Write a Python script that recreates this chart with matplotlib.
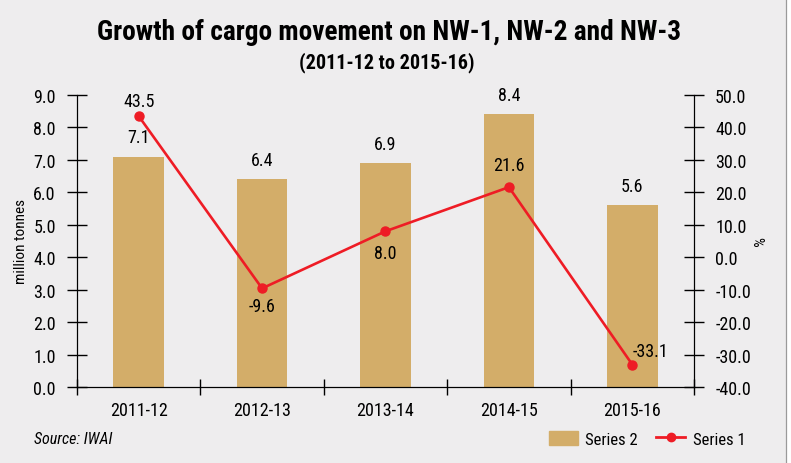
import matplotlib.pyplot as plt
import numpy as np
from matplotlib.patches import Patch, Rectangle
from matplotlib.lines import Line2D

plt.rcParams['font.family'] = ['Roboto Condensed', 'DejaVu Sans']
plt.rcParams['font.stretch'] = 'condensed'

# data
years = ['2011-12', '2012-13', '2013-14', '2014-15', '2015-16']
cargo = [7.1, 6.4, 6.9, 8.4, 5.6]          # million tonnes (Series 2)
growth = [43.5, -9.6, 8.0, 21.6, -33.1]    # % (Series 1)

bg = '#eeedee'
bar_col = '#d3ad69'
red = '#ee1c25'

fig = plt.figure(figsize=(7.91, 4.64), dpi=100, facecolor=bg)
# thin grey border on the right edge, white strip beyond it
fig.add_artist(Rectangle((786 / 791, 0), 1, 1, transform=fig.transFigure,
                         facecolor='white', edgecolor='none'))
fig.add_artist(Line2D([785.5 / 791] * 2, [0, 1], transform=fig.transFigure,
                      color='#9a9a9a', lw=0.9))

ax = fig.add_axes([0.0973, 0.1638, 0.7801, 0.6293])
ax.set_facecolor(bg)
x = np.arange(len(years))

bars = ax.bar(x, cargo, width=0.41, color=bar_col, zorder=2)
ax.set_xlim(-0.5, len(years) - 0.5)
ax.set_ylim(0, 9)
ax.set_yticks(np.arange(0, 9.1, 1.0))
ax.set_yticklabels([f'{v:.1f}' for v in np.arange(0, 9.1, 1.0)])
ax.set_xticks(x)
ax.set_xticklabels(years)
ax.set_xticks(np.arange(-0.5, len(years), 1.0), minor=True)
ax.tick_params(axis='x', which='major', length=0, labelsize=13, pad=10)
ax.tick_params(axis='x', which='minor', direction='inout', length=11.5, width=1)
ax.tick_params(axis='y', direction='inout', length=14.4, width=1, labelsize=13, pad=8)
ax.spines['top'].set_visible(False)
ax.set_ylabel('million tonnes', fontsize=11, labelpad=4)

for b, v in zip(bars, cargo):
    ax.annotate(f'{v:.1f}', (b.get_x() + b.get_width() / 2, v), xytext=(0, 14),
                textcoords='offset points', ha='center', va='center', fontsize=13)

ax2 = ax.twinx()
ax2.set_ylim(-40, 50)
ax2.set_yticks(np.arange(-40, 51, 10))
ax2.set_yticklabels([f'{v:.1f}' for v in np.arange(-40, 51, 10)])
ax2.tick_params(axis='y', direction='inout', length=14.4, width=1, labelsize=13, pad=8)
ax2.spines['top'].set_visible(False)
ax2.set_ylabel('%', fontsize=11, rotation=270, labelpad=9)
ax2.plot(x, growth, color=red, lw=1.9, marker='o', ms=6.5, zorder=3)

# label offsets (points) for the growth values
dys = [11, -12.5, -15.5, 16, 9.5]
has = ['center', 'center', 'center', 'center', 'left']
for i, g in enumerate(growth):
    ax2.annotate(f'{g:.1f}', (x[i], g), xytext=(0, dys[i]),
                 textcoords='offset points', ha=has[i], va='center', fontsize=13)

fig.text(0.492, 0.931, 'Growth of cargo movement on NW-1, NW-2 and NW-3',
         ha='center', va='center', fontsize=19.7, fontweight='black')
fig.text(0.489, 0.864, '(2011-12 to 2015-16)', ha='center', va='center',
         fontsize=14.5, fontweight='bold')
fig.text(0.043, 0.052, 'Source: IWAI', ha='left', va='center', fontsize=11.5,
         style='italic')

handles = [Patch(color=bar_col), Line2D([], [], color=red, lw=2, marker='o', ms=6)]
fig.legend(handles, ['Series 2', 'Series 1'], loc='center right',
           bbox_to_anchor=(0.953, 0.052), ncol=2, frameon=False, fontsize=12,
           handlelength=1.75, handleheight=0.9, columnspacing=1.1, handletextpad=0.45,
           borderpad=0)

fig.savefig('out.png', dpi=100, facecolor=bg)
